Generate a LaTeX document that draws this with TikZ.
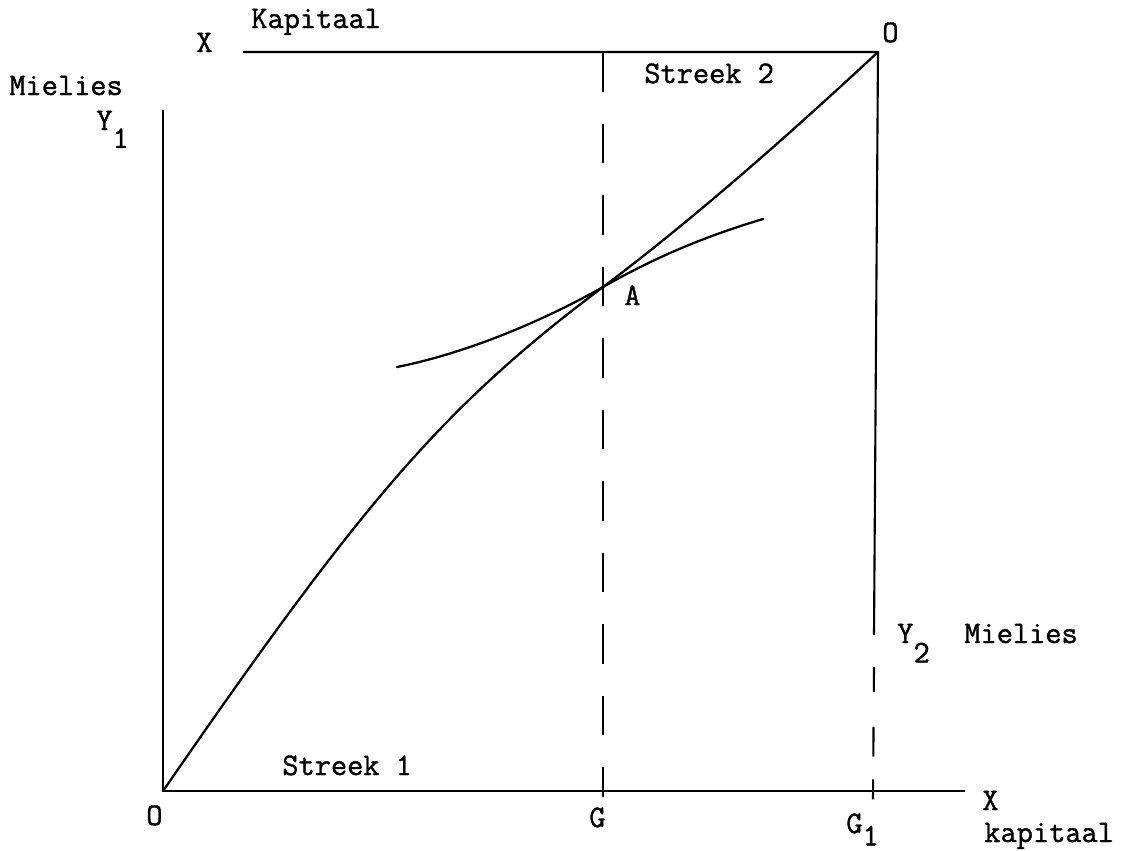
\documentclass[tikz,border=0pt]{standalone}
\usepackage{fontspec}
\usepackage{tikz}
\newfontfamily\typefont[FakeBold=1.2]{Latin Modern Mono}
\tikzset{
  axis/.style={line width=1.2pt, color=black},
  guide/.style={line width=1.2pt, dash pattern=on 22.7pt off 18pt},
  tailguide/.style={line width=1.2pt,
    dash pattern=on 14.2pt off 19.8pt on 17pt off 13pt on 11.3pt off 20pt},
  curve/.style={line width=1.3pt, line cap=round},
  lbl/.style={anchor=base west, inner sep=0pt,
    font=\fontsize{17.9}{21}\selectfont\typefont}
}
\begin{document}
\begin{tikzpicture}[x=0.02cm, y=-0.02cm]
  \useasboundingbox (0,0) rectangle (1130,850);

  % Corners and feet
  \coordinate (O) at (163,791);
  \coordinate (Ytop) at (163,110);
  \coordinate (Xend) at (965,791);
  \coordinate (Xstart) at (243,52);
  \coordinate (Otop) at (878,52);
  \coordinate (Gtop) at (603,52);
  \coordinate (Gbot) at (603,797);
  \coordinate (Gonemid) at (874,635);
  \coordinate (Gonedash) at (874,667);
  \coordinate (Gonebot) at (873,800);
  \coordinate (A) at (603,287);

  % Axes of streek 1
  \draw[axis] (Ytop) -- (O) -- (Xend);
  % Axes of streek 2
  \draw[axis] (Xstart) -- (Otop) -- (Gonemid);
  \draw[tailguide] (Gonedash) -- (Gonebot);

  % Division at G
  \draw[guide] (Gtop) -- (Gbot);

  % Contract curve
  \draw[curve] (O) .. controls (363,501) and (443,407) .. (A)
    .. controls (693,219.5) and (789,134.8) .. (Otop);
  % Tangent curve through A
  \draw[curve] (397,367) .. controls (467,353) and (543,321) .. (A)
    .. controls (658,255.6) and (708,235.5) .. (763,219);

  % Labels
  \node[lbl] (mielies1) at (9,95) {Mielies};
  \node[lbl] (yone) at (96,130) {Y\raisebox{-10.2pt}{1}};
  \node[lbl] (xtop) at (196,52) {X};
  \node[lbl] (kapitaal1) at (251,28) {Kapitaal};
  \node[lbl] (otop) at (882,42) {O};
  \node[lbl] (streek2) at (644,83) {Streek 2};
  \node[lbl] (alabel) at (624,305) {A};
  \node[lbl] (streek1) at (282,775) {Streek 1};
  \node[lbl] (olabel) at (146,825) {O};
  \node[lbl] (glabel) at (589,827) {G};
  \node[lbl] (gone) at (846,833) {G\raisebox{-7pt}{1}};
  \node[lbl] (xright) at (982,810) {X};
  \node[lbl] (kapitaal2) at (984,842) {kapitaal};
  \node[lbl] (ytwo) at (897,643) {Y\raisebox{-11pt}{2}};
  \node[lbl] (mielies2) at (964,643) {Mielies};
\end{tikzpicture}
\end{document}
